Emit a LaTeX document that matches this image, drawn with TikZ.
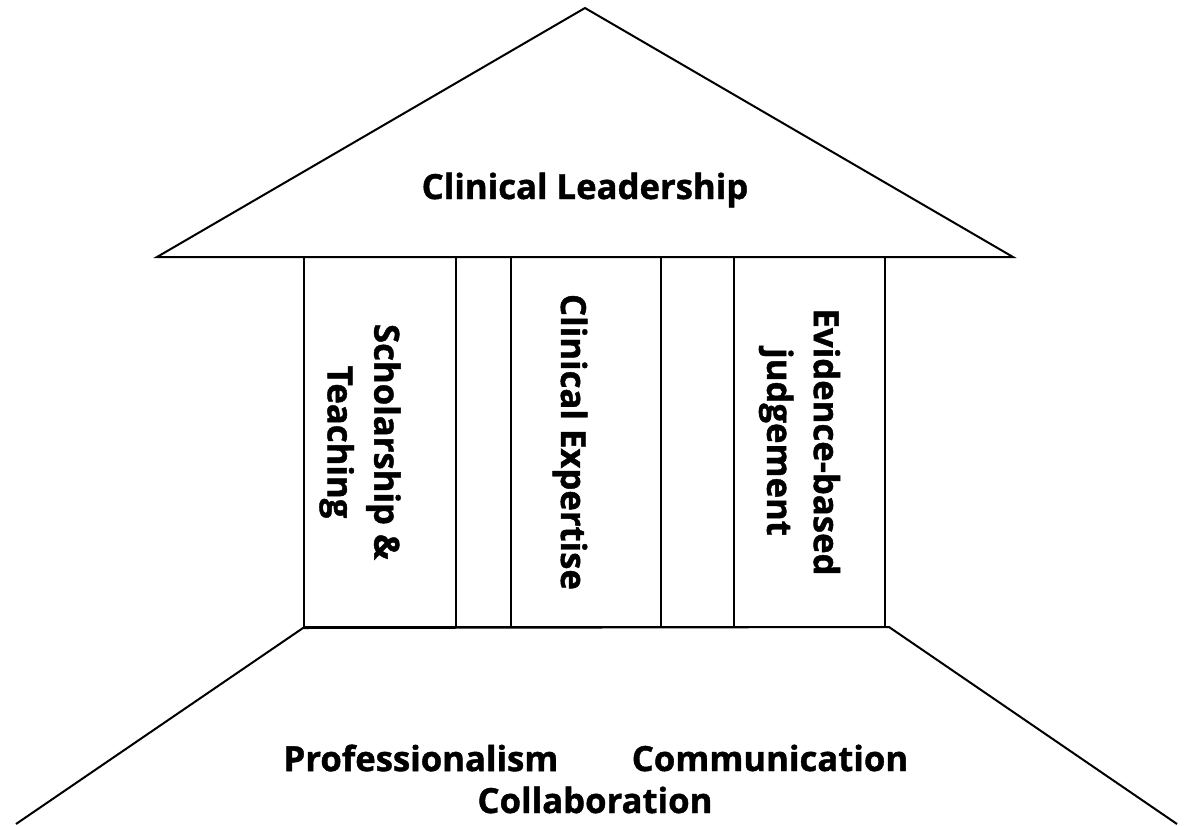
\documentclass[tikz,border=0pt]{standalone}
\usepackage{fontspec}
\setmainfont{Open Sans}[BoldFeatures={FakeBold=1.2}]
\usetikzlibrary{positioning}

\tikzset{
  pillar/.style={draw, rectangle, inner sep=0pt, minimum height=277.5pt},
  big text/.style={font=\fontsize{26}{35}\selectfont\bfseries, inner sep=0pt},
}

\begin{document}
\begin{tikzpicture}[x=0.75pt, y=-0.75pt, line width=1.5pt, line join=miter]
\useasboundingbox (0,0) rectangle (1185,825);

% roof
\coordinate (apex) at (585,8);
\coordinate (roof-l) at (157,257);
\coordinate (roof-r) at (1013,257);
\draw (roof-l) -- (apex) -- (roof-r) -- cycle;
\node [big text] (roof) at (585,190) {Clinical Leadership};

% pillars and the gaps between them
\foreach \m/\a/\b in {1/304/456, gap-1/456/511, 2/511/661, gap-2/661/734, 3/734/885}
  \node [pillar, minimum width={(\b-\a)*0.75pt}] (pillar-\m) at ({(\a+\b)/2},442) {};

% pillar texts
\foreach \l/\d [count=\i] in {{Scholarship \&\\Teaching}/20, {Clinical Expertise}/16, {Evidence-based\\judgement}/10}
  \node [big text, rotate=-90, align=center] (pillar-text-\i) at ([xshift=-\d*0.75pt]pillar-\i.center) {\l};

% base
\coordinate (base-l) at (16,824);
\coordinate (base-r) at (1177,824);
\coordinate (step-r) at (889,627);
\draw (base-l) -- (pillar-1.south west) -- (step-r) -- (base-r);

% base texts
\node [big text] (prof) at (421,758) {Professionalism};
\node [big text] (comm) at (770,758) {Communication};
\node [big text] (coll) at (595,800) {Collaboration};

\end{tikzpicture}
\end{document}
